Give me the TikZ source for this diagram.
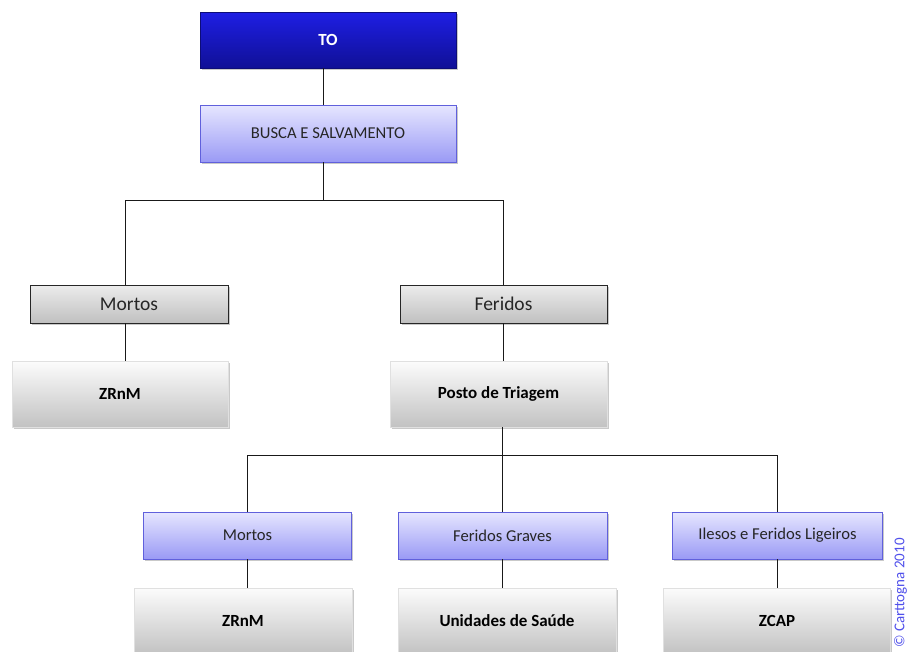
\documentclass[tikz,border=0pt]{standalone}
\usepackage{fontspec}
\setmainfont{Carlito}
\usetikzlibrary{shadows}

\definecolor{toTop}{RGB}{30,30,228}
\definecolor{toBot}{RGB}{16,16,150}
\definecolor{lavTop}{RGB}{230,230,255}
\definecolor{lavBot}{RGB}{154,154,245}
\definecolor{lavEdge}{RGB}{96,96,220}
\definecolor{grayTop}{RGB}{236,236,236}
\definecolor{grayBot}{RGB}{192,192,192}
\definecolor{padTop}{RGB}{252,252,252}
\definecolor{padBot}{RGB}{194,194,194}
\definecolor{markBlue}{RGB}{80,80,235}

\tikzset{
  boxshadow/.style={drop shadow={shadow xshift=1.5pt, shadow yshift=-2pt, opacity=0.3, fill=black!70}},
  topbox/.style={boxshadow, top color=toTop, bottom color=toBot, draw=toBot!80!black,
    line width=0.6pt, text=white, font=\fontsize{17}{20}\selectfont\bfseries},
  lavbox/.style={boxshadow, top color=lavTop, bottom color=lavBot, draw=lavEdge,
    line width=0.8pt, text=black!85, font=\fontsize{16.6}{19}\selectfont},
  headbox/.style={boxshadow, top color=grayTop, bottom color=grayBot, draw=black!85,
    line width=0.8pt, text=black!85, font=\fontsize{19.5}{22}\selectfont},
  padbox/.style={boxshadow, top color=padTop, bottom color=padBot, draw=white!88!black,
    line width=0.6pt, text=black, font=\fontsize{17}{20}\selectfont\bfseries},
  link/.style={draw=black!90, line width=0.8pt},
}

\begin{document}
\begin{tikzpicture}[x=1pt, y=-1pt]
\useasboundingbox (0,0) rectangle (908,651);

% top of the hierarchy
\node[topbox, minimum width=256pt, minimum height=56pt] (to) at (328,40) {TO};
\node[lavbox, minimum width=256pt, minimum height=57pt] (busca) at (328,133.5) {BUSCA E SALVAMENTO};

% first split
\node[headbox, minimum width=198pt, minimum height=38pt] (mortosA) at (129,304) {Mortos};
\node[headbox, minimum width=207pt, minimum height=38pt] (feridosA) at (503.5,304) {Feridos};

\node[padbox, minimum width=216pt, minimum height=66pt] (zrnmA) at (120,394) {ZRnM};
\node[padbox, minimum width=217pt, minimum height=66pt] (posto) at (498.5,394) {Posto de Triagem};

% triage outcomes
\node[lavbox, minimum width=208pt, minimum height=47pt] (mortosB) at (247.5,535.5) {Mortos};
\node[lavbox, minimum width=209pt, minimum height=47pt] (graves) at (502.5,535.5) {Feridos Graves};
\node[lavbox, minimum width=210pt, minimum height=47pt] (ilesos) at (777.5,535.5) {Ilesos e Feridos Ligeiros};

\node[padbox, minimum width=218pt, minimum height=66pt] (zrnmB) at (243,621) {ZRnM};
\node[padbox, minimum width=218pt, minimum height=66pt] (saude) at (507,621) {Unidades de Saúde};
\node[padbox, minimum width=227pt, minimum height=66pt] (zcap) at (777,621) {ZCAP};

% connectors
\draw[link] ([xshift=-4.5pt]to.south) -- ([xshift=-4.5pt]busca.north);
\draw[link] ([xshift=-4.5pt]busca.south) -- ++(0,37.5) -| ([xshift=-4pt]mortosA.north);
\draw[link] ([xshift=-4.5pt]busca.south) -- ++(0,37.5) -| (feridosA.north);
\draw[link] ([xshift=-4pt]mortosA.south) -- ([xshift=-4pt]mortosA.south |- zrnmA.north);
\draw[link] (feridosA.south) -- (feridosA.south |- posto.north);
\draw[link] (posto.south -| graves.north) -- ++(0,28) -| (mortosB.north);
\draw[link] (posto.south -| graves.north) -- ++(0,28) -| (ilesos.north);
\draw[link] (posto.south -| graves.north) -- (graves.north);
\draw[link] (mortosB.south) -- (mortosB.south |- zrnmB.north);
\draw[link] (graves.south) -- (graves.south |- saude.north);
\draw[link] (ilesos.south) -- (ilesos.south |- zcap.north);

% side mark
\node[rotate=90, anchor=west, text=markBlue, font=\fontsize{15}{17}\selectfont, inner sep=0pt] (mark) at (900.5,648) {© Carttogna 2010};
\end{tikzpicture}
\end{document}
